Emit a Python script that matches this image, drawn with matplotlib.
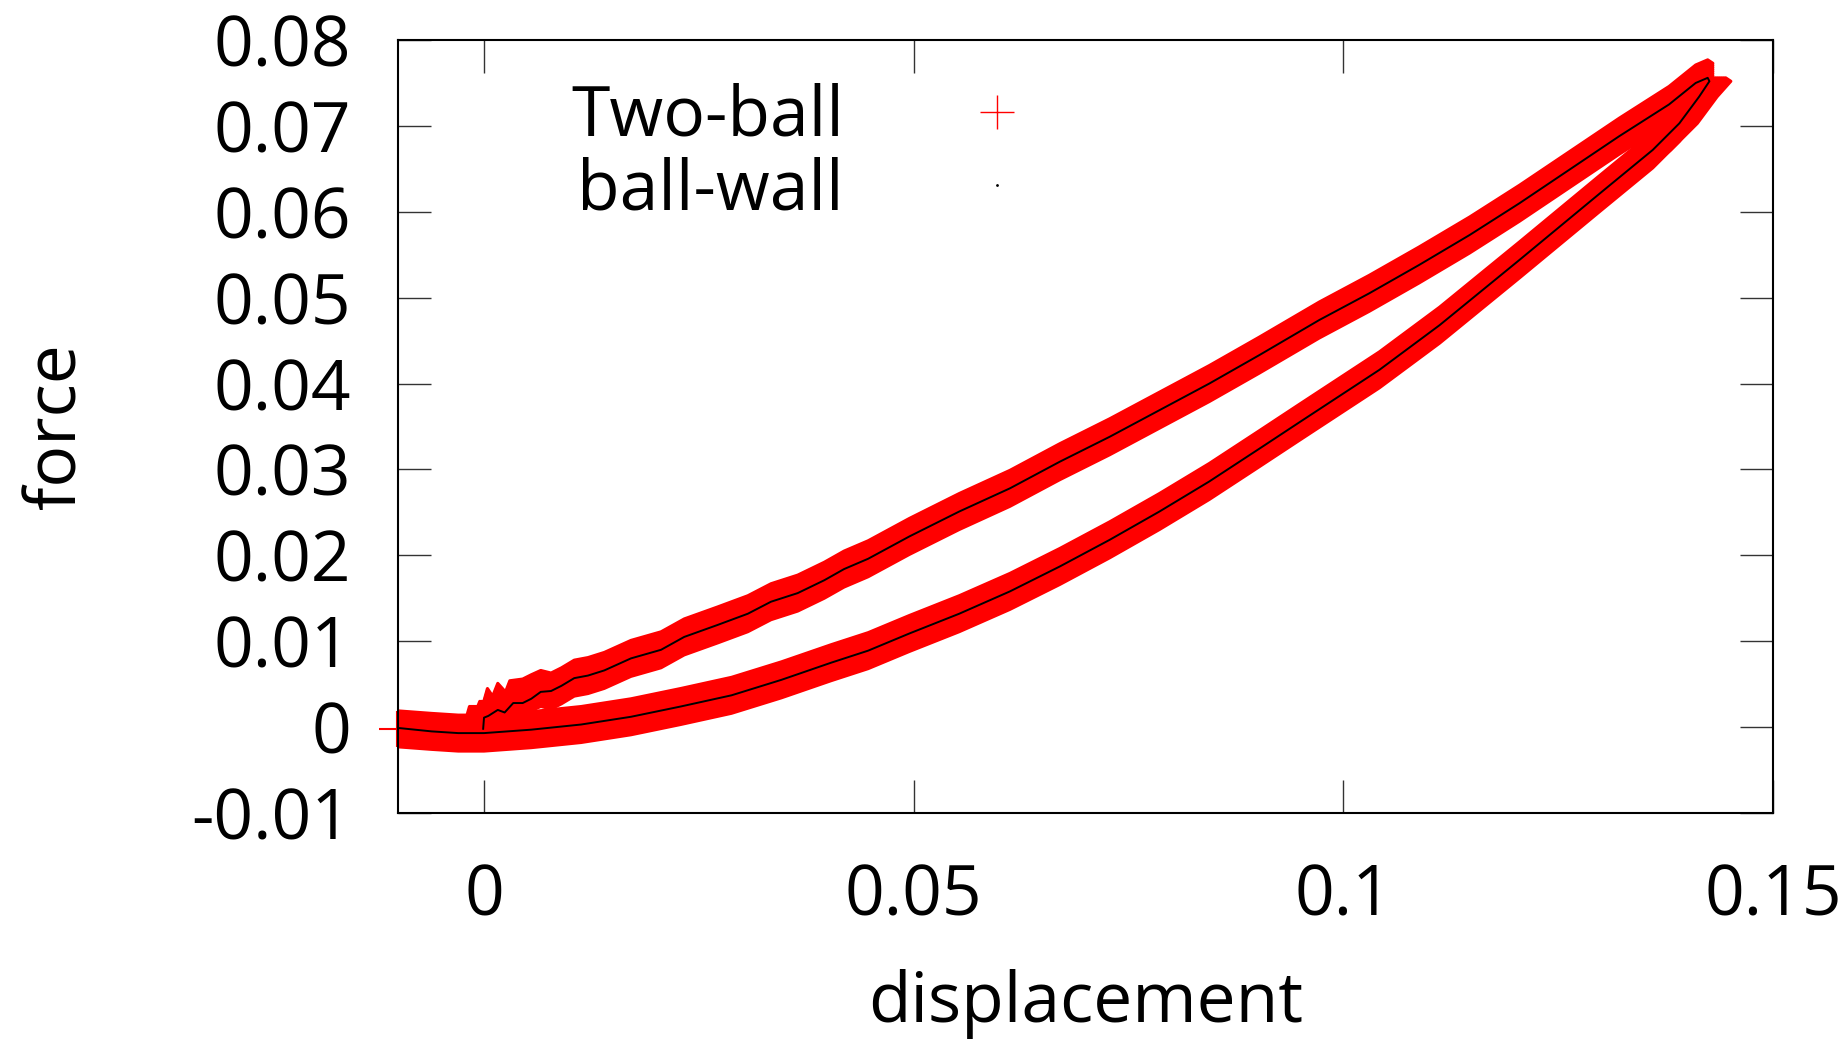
import matplotlib
matplotlib.use("Agg")
import matplotlib.pyplot as plt
from matplotlib.lines import Line2D
from matplotlib.transforms import offset_copy

plt.rcParams["font.family"] = ["Open Sans", "DejaVu Sans"]

# ball-wall curve: lower branch out to the tip, then upper branch back to 0
ball_wall_x = [
    -0.0100, -0.0061, -0.0030, 0.0000, 0.0055, 0.0113, 0.0171, 0.0229, 0.0288, 0.0346,
    0.0404, 0.0447, 0.0495, 0.0553, 0.0612, 0.0670, 0.0728, 0.0786, 0.0844, 0.0902,
    0.0949, 0.1042, 0.1112, 0.1205, 0.1298, 0.1360, 0.1391, 0.1414, 0.1426,
    0.1424,
    0.1410, 0.1379, 0.1321, 0.1263, 0.1205, 0.1147, 0.1088, 0.1030, 0.0972, 0.0902,
    0.0844, 0.0786, 0.0728, 0.0670, 0.0612, 0.0553, 0.0495, 0.0447, 0.0419, 0.0396,
    0.0365, 0.0334, 0.0307, 0.0272, 0.0233, 0.0206, 0.0171, 0.0140, 0.0121, 0.0105,
    0.0090, 0.0078, 0.0066, 0.0055, 0.0045, 0.0034, 0.0024, 0.0016, 0.0005, 0.0000,
    -0.0001,
]
ball_wall_y = [
    -0.0001, -0.0005, -0.0007, -0.0007, -0.0003, 0.0003, 0.0012, 0.0024, 0.0037, 0.0055,
    0.0075, 0.0089, 0.0109, 0.0132, 0.0158, 0.0187, 0.0218, 0.0251, 0.0286, 0.0324,
    0.0355, 0.0416, 0.0468, 0.0544, 0.0621, 0.0672, 0.0703, 0.0734, 0.0752,
    0.0756,
    0.0750, 0.0725, 0.0688, 0.0649, 0.0610, 0.0573, 0.0538, 0.0505, 0.0474, 0.0433,
    0.0400, 0.0369, 0.0338, 0.0309, 0.0278, 0.0251, 0.0222, 0.0196, 0.0184, 0.0171,
    0.0156, 0.0146, 0.0132, 0.0119, 0.0105, 0.0090, 0.0080, 0.0066, 0.0060, 0.0057,
    0.0048, 0.0042, 0.0041, 0.0033, 0.0028, 0.0028, 0.0017, 0.0020, 0.0013, 0.0011,
    -0.0002,
]

# two-ball curve: same loop, noisier near the start of the upper branch
two_ball_x = [
    -0.0101, -0.0061, -0.0030, 0.0000, 0.0055, 0.0113, 0.0171, 0.0229, 0.0288, 0.0346,
    0.0404, 0.0447, 0.0495, 0.0553, 0.0612, 0.0670, 0.0728, 0.0786, 0.0844, 0.0902,
    0.0949, 0.1042, 0.1112, 0.1205, 0.1298, 0.1360, 0.1391, 0.1414, 0.1430,
    0.1424,
    0.1410, 0.1379, 0.1321, 0.1263, 0.1205, 0.1147, 0.1088, 0.1030, 0.0972, 0.0902,
    0.0844, 0.0786, 0.0728, 0.0670, 0.0612, 0.0553, 0.0495, 0.0447, 0.0419, 0.0396,
    0.0365, 0.0334, 0.0307, 0.0272, 0.0233, 0.0206, 0.0171, 0.0140, 0.0121, 0.0105,
    0.0090, 0.0078, 0.0066, 0.0055, 0.0045, 0.0030, 0.0025, 0.0016, 0.0010, 0.0004,
    0.0000, -0.0005,
]
two_ball_y = [
    -0.0002, -0.0005, -0.0007, -0.0007, -0.0003, 0.0003, 0.0012, 0.0024, 0.0037, 0.0055,
    0.0075, 0.0089, 0.0109, 0.0132, 0.0158, 0.0187, 0.0218, 0.0251, 0.0286, 0.0324,
    0.0355, 0.0416, 0.0468, 0.0544, 0.0621, 0.0672, 0.0703, 0.0734, 0.0752,
    0.0756,
    0.0750, 0.0725, 0.0688, 0.0649, 0.0610, 0.0573, 0.0538, 0.0505, 0.0474, 0.0433,
    0.0400, 0.0369, 0.0338, 0.0309, 0.0278, 0.0251, 0.0222, 0.0196, 0.0184, 0.0171,
    0.0156, 0.0146, 0.0132, 0.0119, 0.0105, 0.0090, 0.0080, 0.0066, 0.0060, 0.0057,
    0.0048, 0.0042, 0.0045, 0.0040, 0.0035, 0.0033, 0.0020, 0.0030, 0.0015, 0.0024,
    0.0010, 0.0003,
]

x_ticks = [0, 0.05, 0.1, 0.15]
x_tick_labels = ["0", "0.05", "0.1", "0.15"]
y_ticks = [-0.01, 0, 0.01, 0.02, 0.03, 0.04, 0.05, 0.06, 0.07, 0.08]
y_tick_labels = ["-0.01", "0", "0.01", "0.02", "0.03", "0.04", "0.05", "0.06", "0.07", "0.08"]

FS = 50
PLUS_HALF = 18  # half arm of the '+' points, in pixels

fig = plt.figure(figsize=(18.49, 10.40), dpi=100)
ax = fig.add_axes([0.2153, 0.2183, 0.9589 - 0.2153, 0.9615 - 0.2183])

# the two-ball points are so dense that their '+' marks merge into a band;
# sweep the curve along both arms of the '+' to get the same shape
for d in range(-PLUS_HALF, PLUS_HALF + 1, 2):
    for dx, dy in ((0, d), (d, 0)):
        ax.plot(two_ball_x, two_ball_y, color="red", lw=2.2, solid_capstyle="butt",
                transform=offset_copy(ax.transData, fig=fig, x=dx, y=dy, units="dots"),
                zorder=2)
ax.plot(two_ball_x, two_ball_y, ls="none", marker="+", ms=26, mew=1.5,
        color="red", clip_on=False, zorder=2)
ax.plot(ball_wall_x, ball_wall_y, color="black", lw=1.4, zorder=3)

ax.set_xlim(-0.01, 0.15)
ax.set_ylim(-0.01, 0.08)
ax.set_xticks(x_ticks)
ax.set_xticklabels(x_tick_labels)
ax.set_yticks(y_ticks)
ax.set_yticklabels(y_tick_labels)

ax.tick_params(axis="both", which="both", direction="in", length=24, width=1.0,
               color="#333333", labelsize=FS, top=True, right=True)
ax.tick_params(axis="y", pad=34)
ax.tick_params(axis="x", pad=36)
for sp in ax.spines.values():
    sp.set_linewidth(1.5)
    sp.set_color("black")

ax.set_xlabel("displacement", fontsize=FS, labelpad=26)
ax.set_ylabel("force", fontsize=FS, labelpad=71)

handles = [
    Line2D([], [], ls="none", marker="+", ms=24, mew=1.0, color="red"),
    Line2D([], [], ls="none", marker=".", ms=2, color="black"),
]
ax.legend(handles, ["Two-ball", "ball-wall"], loc="upper right",
          bbox_to_anchor=(1066 / 1849, 1 - 83 / 1040), bbox_transform=fig.transFigure,
          frameon=False, fontsize=FS, markerfirst=False, handlelength=2,
          handletextpad=1.2, labelspacing=0.05, borderpad=0, borderaxespad=0)

fig.savefig("out.png", dpi=100)
